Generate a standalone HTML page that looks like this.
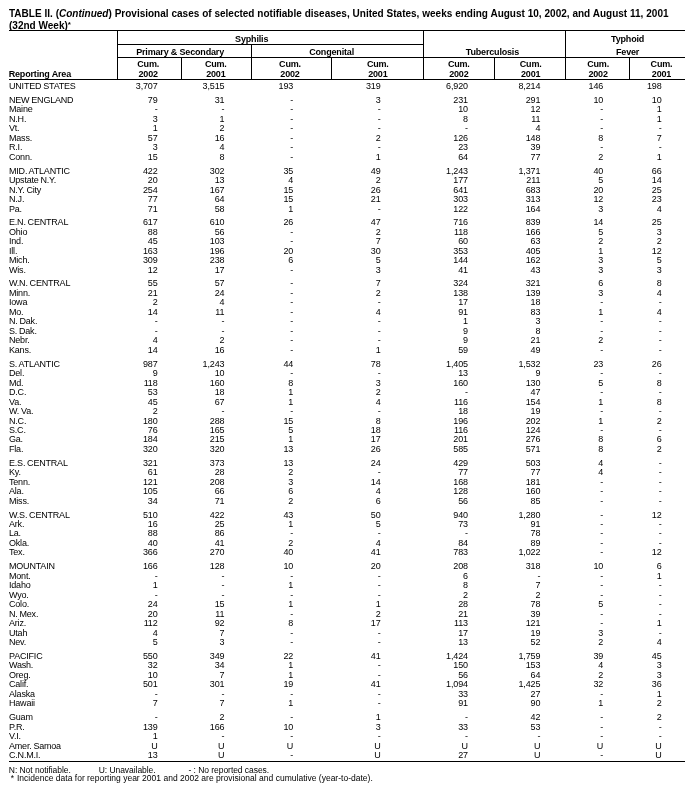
<!DOCTYPE html>
<html><head><meta charset="utf-8"><style>
html,body{margin:0;padding:0;background:#fff;width:699px;height:792px;overflow:hidden;position:relative}
div{position:absolute;white-space:nowrap;color:#000;font-family:'Liberation Sans', sans-serif}
#wrap{left:0;top:0;width:699px;height:792px;will-change:transform}
.t{font-size:10px;font-weight:bold;line-height:11px;word-spacing:0.1px}
.r{font-size:9px;line-height:10px;letter-spacing:-0.2px;word-spacing:-0.4px}
.ra{letter-spacing:-0.15px}
.b{font-size:9px;font-weight:bold;line-height:10px;letter-spacing:-0.17px}
.f{font-size:8.5px;line-height:9px;letter-spacing:-0.05px}
.ca{width:200px;text-align:center}
.hl{height:1px;background:#000}
.vl{width:1px;background:#000}
</style></head><body><div id="wrap">
<div class="t" style="left:9.00px;top:8px">TABLE II. (<i>Continued</i>) Provisional cases of selected notifiable diseases, United States, weeks ending August 10, 2002, and August 11, 2001</div>
<div class="t" style="left:9.00px;top:19px">(32nd Week)<span style="font-size:8px;vertical-align:1.5px">*</span></div>
<div class="hl" style="left:9px;top:30px;width:676px"></div>
<div class="hl" style="left:117px;top:44px;width:307px"></div>
<div class="hl" style="left:117px;top:57px;width:568px"></div>
<div class="hl" style="left:9px;top:79px;width:676px"></div>
<div class="vl" style="left:117px;top:30px;height:50px"></div>
<div class="vl" style="left:423px;top:30px;height:50px"></div>
<div class="vl" style="left:565px;top:30px;height:50px"></div>
<div class="vl" style="left:251px;top:44px;height:36px"></div>
<div class="vl" style="left:181px;top:57px;height:23px"></div>
<div class="vl" style="left:331px;top:57px;height:23px"></div>
<div class="vl" style="left:494px;top:57px;height:23px"></div>
<div class="vl" style="left:629px;top:57px;height:23px"></div>
<div class="b" style="left:8.70px;top:69px">Reporting Area</div>
<div class="b ca" style="left:151.70px;top:34px">Syphilis</div>
<div class="b ca" style="left:80.10px;top:47px">Primary &amp; Secondary</div>
<div class="b ca" style="left:231.60px;top:47px">Congenital</div>
<div class="b ca" style="left:392.40px;top:47px">Tuberculosis</div>
<div class="b ca" style="left:527.60px;top:34px">Typhoid</div>
<div class="b ca" style="left:527.60px;top:47px">Fever</div>
<div class="b ca" style="left:48.20px;top:59px">Cum.</div>
<div class="b ca" style="left:48.20px;top:69px">2002</div>
<div class="b ca" style="left:115.80px;top:59px">Cum.</div>
<div class="b ca" style="left:115.80px;top:69px">2001</div>
<div class="b ca" style="left:190.00px;top:59px">Cum.</div>
<div class="b ca" style="left:190.00px;top:69px">2002</div>
<div class="b ca" style="left:277.80px;top:59px">Cum.</div>
<div class="b ca" style="left:277.80px;top:69px">2001</div>
<div class="b ca" style="left:358.80px;top:59px">Cum.</div>
<div class="b ca" style="left:358.80px;top:69px">2002</div>
<div class="b ca" style="left:430.70px;top:59px">Cum.</div>
<div class="b ca" style="left:430.70px;top:69px">2001</div>
<div class="b ca" style="left:498.10px;top:59px">Cum.</div>
<div class="b ca" style="left:498.10px;top:69px">2002</div>
<div class="b ca" style="left:561.50px;top:59px">Cum.</div>
<div class="b ca" style="left:561.50px;top:69px">2001</div>
<div class="r" style="left:9.00px;top:81px">UNITED STATES</div>
<div class="r ra" style="right:541.45px;top:81px">3,707</div>
<div class="r ra" style="right:474.65px;top:81px">3,515</div>
<div class="r ra" style="right:405.85px;top:81px">193</div>
<div class="r ra" style="right:318.45px;top:81px">319</div>
<div class="r ra" style="right:231.15px;top:81px">6,920</div>
<div class="r ra" style="right:158.75px;top:81px">8,214</div>
<div class="r ra" style="right:95.85px;top:81px">146</div>
<div class="r ra" style="right:37.45px;top:81px">198</div>
<div class="r" style="left:9.00px;top:95px">NEW ENGLAND</div>
<div class="r ra" style="right:541.45px;top:95px">79</div>
<div class="r ra" style="right:474.65px;top:95px">31</div>
<div class="r ra" style="right:405.85px;top:95px">-</div>
<div class="r ra" style="right:318.45px;top:95px">3</div>
<div class="r ra" style="right:231.15px;top:95px">231</div>
<div class="r ra" style="right:158.75px;top:95px">291</div>
<div class="r ra" style="right:95.85px;top:95px">10</div>
<div class="r ra" style="right:37.45px;top:95px">10</div>
<div class="r" style="left:9.00px;top:104px">Maine</div>
<div class="r ra" style="right:541.45px;top:104px">-</div>
<div class="r ra" style="right:474.65px;top:104px">-</div>
<div class="r ra" style="right:405.85px;top:104px">-</div>
<div class="r ra" style="right:318.45px;top:104px">-</div>
<div class="r ra" style="right:231.15px;top:104px">10</div>
<div class="r ra" style="right:158.75px;top:104px">12</div>
<div class="r ra" style="right:95.85px;top:104px">-</div>
<div class="r ra" style="right:37.45px;top:104px">1</div>
<div class="r" style="left:9.00px;top:114px">N.H.</div>
<div class="r ra" style="right:541.45px;top:114px">3</div>
<div class="r ra" style="right:474.65px;top:114px">1</div>
<div class="r ra" style="right:405.85px;top:114px">-</div>
<div class="r ra" style="right:318.45px;top:114px">-</div>
<div class="r ra" style="right:231.15px;top:114px">8</div>
<div class="r ra" style="right:158.75px;top:114px">11</div>
<div class="r ra" style="right:95.85px;top:114px">-</div>
<div class="r ra" style="right:37.45px;top:114px">1</div>
<div class="r" style="left:9.00px;top:123px">Vt.</div>
<div class="r ra" style="right:541.45px;top:123px">1</div>
<div class="r ra" style="right:474.65px;top:123px">2</div>
<div class="r ra" style="right:405.85px;top:123px">-</div>
<div class="r ra" style="right:318.45px;top:123px">-</div>
<div class="r ra" style="right:231.15px;top:123px">-</div>
<div class="r ra" style="right:158.75px;top:123px">4</div>
<div class="r ra" style="right:95.85px;top:123px">-</div>
<div class="r ra" style="right:37.45px;top:123px">-</div>
<div class="r" style="left:9.00px;top:133px">Mass.</div>
<div class="r ra" style="right:541.45px;top:133px">57</div>
<div class="r ra" style="right:474.65px;top:133px">16</div>
<div class="r ra" style="right:405.85px;top:133px">-</div>
<div class="r ra" style="right:318.45px;top:133px">2</div>
<div class="r ra" style="right:231.15px;top:133px">126</div>
<div class="r ra" style="right:158.75px;top:133px">148</div>
<div class="r ra" style="right:95.85px;top:133px">8</div>
<div class="r ra" style="right:37.45px;top:133px">7</div>
<div class="r" style="left:9.00px;top:142px">R.I.</div>
<div class="r ra" style="right:541.45px;top:142px">3</div>
<div class="r ra" style="right:474.65px;top:142px">4</div>
<div class="r ra" style="right:405.85px;top:142px">-</div>
<div class="r ra" style="right:318.45px;top:142px">-</div>
<div class="r ra" style="right:231.15px;top:142px">23</div>
<div class="r ra" style="right:158.75px;top:142px">39</div>
<div class="r ra" style="right:95.85px;top:142px">-</div>
<div class="r ra" style="right:37.45px;top:142px">-</div>
<div class="r" style="left:9.00px;top:152px">Conn.</div>
<div class="r ra" style="right:541.45px;top:152px">15</div>
<div class="r ra" style="right:474.65px;top:152px">8</div>
<div class="r ra" style="right:405.85px;top:152px">-</div>
<div class="r ra" style="right:318.45px;top:152px">1</div>
<div class="r ra" style="right:231.15px;top:152px">64</div>
<div class="r ra" style="right:158.75px;top:152px">77</div>
<div class="r ra" style="right:95.85px;top:152px">2</div>
<div class="r ra" style="right:37.45px;top:152px">1</div>
<div class="r" style="left:9.00px;top:166px">MID. ATLANTIC</div>
<div class="r ra" style="right:541.45px;top:166px">422</div>
<div class="r ra" style="right:474.65px;top:166px">302</div>
<div class="r ra" style="right:405.85px;top:166px">35</div>
<div class="r ra" style="right:318.45px;top:166px">49</div>
<div class="r ra" style="right:231.15px;top:166px">1,243</div>
<div class="r ra" style="right:158.75px;top:166px">1,371</div>
<div class="r ra" style="right:95.85px;top:166px">40</div>
<div class="r ra" style="right:37.45px;top:166px">66</div>
<div class="r" style="left:9.00px;top:175px">Upstate N.Y.</div>
<div class="r ra" style="right:541.45px;top:175px">20</div>
<div class="r ra" style="right:474.65px;top:175px">13</div>
<div class="r ra" style="right:405.85px;top:175px">4</div>
<div class="r ra" style="right:318.45px;top:175px">2</div>
<div class="r ra" style="right:231.15px;top:175px">177</div>
<div class="r ra" style="right:158.75px;top:175px">211</div>
<div class="r ra" style="right:95.85px;top:175px">5</div>
<div class="r ra" style="right:37.45px;top:175px">14</div>
<div class="r" style="left:9.00px;top:185px">N.Y. City</div>
<div class="r ra" style="right:541.45px;top:185px">254</div>
<div class="r ra" style="right:474.65px;top:185px">167</div>
<div class="r ra" style="right:405.85px;top:185px">15</div>
<div class="r ra" style="right:318.45px;top:185px">26</div>
<div class="r ra" style="right:231.15px;top:185px">641</div>
<div class="r ra" style="right:158.75px;top:185px">683</div>
<div class="r ra" style="right:95.85px;top:185px">20</div>
<div class="r ra" style="right:37.45px;top:185px">25</div>
<div class="r" style="left:9.00px;top:194px">N.J.</div>
<div class="r ra" style="right:541.45px;top:194px">77</div>
<div class="r ra" style="right:474.65px;top:194px">64</div>
<div class="r ra" style="right:405.85px;top:194px">15</div>
<div class="r ra" style="right:318.45px;top:194px">21</div>
<div class="r ra" style="right:231.15px;top:194px">303</div>
<div class="r ra" style="right:158.75px;top:194px">313</div>
<div class="r ra" style="right:95.85px;top:194px">12</div>
<div class="r ra" style="right:37.45px;top:194px">23</div>
<div class="r" style="left:9.00px;top:204px">Pa.</div>
<div class="r ra" style="right:541.45px;top:204px">71</div>
<div class="r ra" style="right:474.65px;top:204px">58</div>
<div class="r ra" style="right:405.85px;top:204px">1</div>
<div class="r ra" style="right:318.45px;top:204px">-</div>
<div class="r ra" style="right:231.15px;top:204px">122</div>
<div class="r ra" style="right:158.75px;top:204px">164</div>
<div class="r ra" style="right:95.85px;top:204px">3</div>
<div class="r ra" style="right:37.45px;top:204px">4</div>
<div class="r" style="left:9.00px;top:217px">E.N. CENTRAL</div>
<div class="r ra" style="right:541.45px;top:217px">617</div>
<div class="r ra" style="right:474.65px;top:217px">610</div>
<div class="r ra" style="right:405.85px;top:217px">26</div>
<div class="r ra" style="right:318.45px;top:217px">47</div>
<div class="r ra" style="right:231.15px;top:217px">716</div>
<div class="r ra" style="right:158.75px;top:217px">839</div>
<div class="r ra" style="right:95.85px;top:217px">14</div>
<div class="r ra" style="right:37.45px;top:217px">25</div>
<div class="r" style="left:9.00px;top:227px">Ohio</div>
<div class="r ra" style="right:541.45px;top:227px">88</div>
<div class="r ra" style="right:474.65px;top:227px">56</div>
<div class="r ra" style="right:405.85px;top:227px">-</div>
<div class="r ra" style="right:318.45px;top:227px">2</div>
<div class="r ra" style="right:231.15px;top:227px">118</div>
<div class="r ra" style="right:158.75px;top:227px">166</div>
<div class="r ra" style="right:95.85px;top:227px">5</div>
<div class="r ra" style="right:37.45px;top:227px">3</div>
<div class="r" style="left:9.00px;top:236px">Ind.</div>
<div class="r ra" style="right:541.45px;top:236px">45</div>
<div class="r ra" style="right:474.65px;top:236px">103</div>
<div class="r ra" style="right:405.85px;top:236px">-</div>
<div class="r ra" style="right:318.45px;top:236px">7</div>
<div class="r ra" style="right:231.15px;top:236px">60</div>
<div class="r ra" style="right:158.75px;top:236px">63</div>
<div class="r ra" style="right:95.85px;top:236px">2</div>
<div class="r ra" style="right:37.45px;top:236px">2</div>
<div class="r" style="left:9.00px;top:246px">Ill.</div>
<div class="r ra" style="right:541.45px;top:246px">163</div>
<div class="r ra" style="right:474.65px;top:246px">196</div>
<div class="r ra" style="right:405.85px;top:246px">20</div>
<div class="r ra" style="right:318.45px;top:246px">30</div>
<div class="r ra" style="right:231.15px;top:246px">353</div>
<div class="r ra" style="right:158.75px;top:246px">405</div>
<div class="r ra" style="right:95.85px;top:246px">1</div>
<div class="r ra" style="right:37.45px;top:246px">12</div>
<div class="r" style="left:9.00px;top:255px">Mich.</div>
<div class="r ra" style="right:541.45px;top:255px">309</div>
<div class="r ra" style="right:474.65px;top:255px">238</div>
<div class="r ra" style="right:405.85px;top:255px">6</div>
<div class="r ra" style="right:318.45px;top:255px">5</div>
<div class="r ra" style="right:231.15px;top:255px">144</div>
<div class="r ra" style="right:158.75px;top:255px">162</div>
<div class="r ra" style="right:95.85px;top:255px">3</div>
<div class="r ra" style="right:37.45px;top:255px">5</div>
<div class="r" style="left:9.00px;top:265px">Wis.</div>
<div class="r ra" style="right:541.45px;top:265px">12</div>
<div class="r ra" style="right:474.65px;top:265px">17</div>
<div class="r ra" style="right:405.85px;top:265px">-</div>
<div class="r ra" style="right:318.45px;top:265px">3</div>
<div class="r ra" style="right:231.15px;top:265px">41</div>
<div class="r ra" style="right:158.75px;top:265px">43</div>
<div class="r ra" style="right:95.85px;top:265px">3</div>
<div class="r ra" style="right:37.45px;top:265px">3</div>
<div class="r" style="left:9.00px;top:278px">W.N. CENTRAL</div>
<div class="r ra" style="right:541.45px;top:278px">55</div>
<div class="r ra" style="right:474.65px;top:278px">57</div>
<div class="r ra" style="right:405.85px;top:278px">-</div>
<div class="r ra" style="right:318.45px;top:278px">7</div>
<div class="r ra" style="right:231.15px;top:278px">324</div>
<div class="r ra" style="right:158.75px;top:278px">321</div>
<div class="r ra" style="right:95.85px;top:278px">6</div>
<div class="r ra" style="right:37.45px;top:278px">8</div>
<div class="r" style="left:9.00px;top:288px">Minn.</div>
<div class="r ra" style="right:541.45px;top:288px">21</div>
<div class="r ra" style="right:474.65px;top:288px">24</div>
<div class="r ra" style="right:405.85px;top:288px">-</div>
<div class="r ra" style="right:318.45px;top:288px">2</div>
<div class="r ra" style="right:231.15px;top:288px">138</div>
<div class="r ra" style="right:158.75px;top:288px">139</div>
<div class="r ra" style="right:95.85px;top:288px">3</div>
<div class="r ra" style="right:37.45px;top:288px">4</div>
<div class="r" style="left:9.00px;top:297px">Iowa</div>
<div class="r ra" style="right:541.45px;top:297px">2</div>
<div class="r ra" style="right:474.65px;top:297px">4</div>
<div class="r ra" style="right:405.85px;top:297px">-</div>
<div class="r ra" style="right:318.45px;top:297px">-</div>
<div class="r ra" style="right:231.15px;top:297px">17</div>
<div class="r ra" style="right:158.75px;top:297px">18</div>
<div class="r ra" style="right:95.85px;top:297px">-</div>
<div class="r ra" style="right:37.45px;top:297px">-</div>
<div class="r" style="left:9.00px;top:307px">Mo.</div>
<div class="r ra" style="right:541.45px;top:307px">14</div>
<div class="r ra" style="right:474.65px;top:307px">11</div>
<div class="r ra" style="right:405.85px;top:307px">-</div>
<div class="r ra" style="right:318.45px;top:307px">4</div>
<div class="r ra" style="right:231.15px;top:307px">91</div>
<div class="r ra" style="right:158.75px;top:307px">83</div>
<div class="r ra" style="right:95.85px;top:307px">1</div>
<div class="r ra" style="right:37.45px;top:307px">4</div>
<div class="r" style="left:9.00px;top:316px">N. Dak.</div>
<div class="r ra" style="right:541.45px;top:316px">-</div>
<div class="r ra" style="right:474.65px;top:316px">-</div>
<div class="r ra" style="right:405.85px;top:316px">-</div>
<div class="r ra" style="right:318.45px;top:316px">-</div>
<div class="r ra" style="right:231.15px;top:316px">1</div>
<div class="r ra" style="right:158.75px;top:316px">3</div>
<div class="r ra" style="right:95.85px;top:316px">-</div>
<div class="r ra" style="right:37.45px;top:316px">-</div>
<div class="r" style="left:9.00px;top:326px">S. Dak.</div>
<div class="r ra" style="right:541.45px;top:326px">-</div>
<div class="r ra" style="right:474.65px;top:326px">-</div>
<div class="r ra" style="right:405.85px;top:326px">-</div>
<div class="r ra" style="right:318.45px;top:326px">-</div>
<div class="r ra" style="right:231.15px;top:326px">9</div>
<div class="r ra" style="right:158.75px;top:326px">8</div>
<div class="r ra" style="right:95.85px;top:326px">-</div>
<div class="r ra" style="right:37.45px;top:326px">-</div>
<div class="r" style="left:9.00px;top:335px">Nebr.</div>
<div class="r ra" style="right:541.45px;top:335px">4</div>
<div class="r ra" style="right:474.65px;top:335px">2</div>
<div class="r ra" style="right:405.85px;top:335px">-</div>
<div class="r ra" style="right:318.45px;top:335px">-</div>
<div class="r ra" style="right:231.15px;top:335px">9</div>
<div class="r ra" style="right:158.75px;top:335px">21</div>
<div class="r ra" style="right:95.85px;top:335px">2</div>
<div class="r ra" style="right:37.45px;top:335px">-</div>
<div class="r" style="left:9.00px;top:345px">Kans.</div>
<div class="r ra" style="right:541.45px;top:345px">14</div>
<div class="r ra" style="right:474.65px;top:345px">16</div>
<div class="r ra" style="right:405.85px;top:345px">-</div>
<div class="r ra" style="right:318.45px;top:345px">1</div>
<div class="r ra" style="right:231.15px;top:345px">59</div>
<div class="r ra" style="right:158.75px;top:345px">49</div>
<div class="r ra" style="right:95.85px;top:345px">-</div>
<div class="r ra" style="right:37.45px;top:345px">-</div>
<div class="r" style="left:9.00px;top:359px">S. ATLANTIC</div>
<div class="r ra" style="right:541.45px;top:359px">987</div>
<div class="r ra" style="right:474.65px;top:359px">1,243</div>
<div class="r ra" style="right:405.85px;top:359px">44</div>
<div class="r ra" style="right:318.45px;top:359px">78</div>
<div class="r ra" style="right:231.15px;top:359px">1,405</div>
<div class="r ra" style="right:158.75px;top:359px">1,532</div>
<div class="r ra" style="right:95.85px;top:359px">23</div>
<div class="r ra" style="right:37.45px;top:359px">26</div>
<div class="r" style="left:9.00px;top:368px">Del.</div>
<div class="r ra" style="right:541.45px;top:368px">9</div>
<div class="r ra" style="right:474.65px;top:368px">10</div>
<div class="r ra" style="right:405.85px;top:368px">-</div>
<div class="r ra" style="right:318.45px;top:368px">-</div>
<div class="r ra" style="right:231.15px;top:368px">13</div>
<div class="r ra" style="right:158.75px;top:368px">9</div>
<div class="r ra" style="right:95.85px;top:368px">-</div>
<div class="r ra" style="right:37.45px;top:368px">-</div>
<div class="r" style="left:9.00px;top:378px">Md.</div>
<div class="r ra" style="right:541.45px;top:378px">118</div>
<div class="r ra" style="right:474.65px;top:378px">160</div>
<div class="r ra" style="right:405.85px;top:378px">8</div>
<div class="r ra" style="right:318.45px;top:378px">3</div>
<div class="r ra" style="right:231.15px;top:378px">160</div>
<div class="r ra" style="right:158.75px;top:378px">130</div>
<div class="r ra" style="right:95.85px;top:378px">5</div>
<div class="r ra" style="right:37.45px;top:378px">8</div>
<div class="r" style="left:9.00px;top:387px">D.C.</div>
<div class="r ra" style="right:541.45px;top:387px">53</div>
<div class="r ra" style="right:474.65px;top:387px">18</div>
<div class="r ra" style="right:405.85px;top:387px">1</div>
<div class="r ra" style="right:318.45px;top:387px">2</div>
<div class="r ra" style="right:231.15px;top:387px">-</div>
<div class="r ra" style="right:158.75px;top:387px">47</div>
<div class="r ra" style="right:95.85px;top:387px">-</div>
<div class="r ra" style="right:37.45px;top:387px">-</div>
<div class="r" style="left:9.00px;top:397px">Va.</div>
<div class="r ra" style="right:541.45px;top:397px">45</div>
<div class="r ra" style="right:474.65px;top:397px">67</div>
<div class="r ra" style="right:405.85px;top:397px">1</div>
<div class="r ra" style="right:318.45px;top:397px">4</div>
<div class="r ra" style="right:231.15px;top:397px">116</div>
<div class="r ra" style="right:158.75px;top:397px">154</div>
<div class="r ra" style="right:95.85px;top:397px">1</div>
<div class="r ra" style="right:37.45px;top:397px">8</div>
<div class="r" style="left:9.00px;top:406px">W. Va.</div>
<div class="r ra" style="right:541.45px;top:406px">2</div>
<div class="r ra" style="right:474.65px;top:406px">-</div>
<div class="r ra" style="right:405.85px;top:406px">-</div>
<div class="r ra" style="right:318.45px;top:406px">-</div>
<div class="r ra" style="right:231.15px;top:406px">18</div>
<div class="r ra" style="right:158.75px;top:406px">19</div>
<div class="r ra" style="right:95.85px;top:406px">-</div>
<div class="r ra" style="right:37.45px;top:406px">-</div>
<div class="r" style="left:9.00px;top:416px">N.C.</div>
<div class="r ra" style="right:541.45px;top:416px">180</div>
<div class="r ra" style="right:474.65px;top:416px">288</div>
<div class="r ra" style="right:405.85px;top:416px">15</div>
<div class="r ra" style="right:318.45px;top:416px">8</div>
<div class="r ra" style="right:231.15px;top:416px">196</div>
<div class="r ra" style="right:158.75px;top:416px">202</div>
<div class="r ra" style="right:95.85px;top:416px">1</div>
<div class="r ra" style="right:37.45px;top:416px">2</div>
<div class="r" style="left:9.00px;top:425px">S.C.</div>
<div class="r ra" style="right:541.45px;top:425px">76</div>
<div class="r ra" style="right:474.65px;top:425px">165</div>
<div class="r ra" style="right:405.85px;top:425px">5</div>
<div class="r ra" style="right:318.45px;top:425px">18</div>
<div class="r ra" style="right:231.15px;top:425px">116</div>
<div class="r ra" style="right:158.75px;top:425px">124</div>
<div class="r ra" style="right:95.85px;top:425px">-</div>
<div class="r ra" style="right:37.45px;top:425px">-</div>
<div class="r" style="left:9.00px;top:434px">Ga.</div>
<div class="r ra" style="right:541.45px;top:434px">184</div>
<div class="r ra" style="right:474.65px;top:434px">215</div>
<div class="r ra" style="right:405.85px;top:434px">1</div>
<div class="r ra" style="right:318.45px;top:434px">17</div>
<div class="r ra" style="right:231.15px;top:434px">201</div>
<div class="r ra" style="right:158.75px;top:434px">276</div>
<div class="r ra" style="right:95.85px;top:434px">8</div>
<div class="r ra" style="right:37.45px;top:434px">6</div>
<div class="r" style="left:9.00px;top:444px">Fla.</div>
<div class="r ra" style="right:541.45px;top:444px">320</div>
<div class="r ra" style="right:474.65px;top:444px">320</div>
<div class="r ra" style="right:405.85px;top:444px">13</div>
<div class="r ra" style="right:318.45px;top:444px">26</div>
<div class="r ra" style="right:231.15px;top:444px">585</div>
<div class="r ra" style="right:158.75px;top:444px">571</div>
<div class="r ra" style="right:95.85px;top:444px">8</div>
<div class="r ra" style="right:37.45px;top:444px">2</div>
<div class="r" style="left:9.00px;top:458px">E.S. CENTRAL</div>
<div class="r ra" style="right:541.45px;top:458px">321</div>
<div class="r ra" style="right:474.65px;top:458px">373</div>
<div class="r ra" style="right:405.85px;top:458px">13</div>
<div class="r ra" style="right:318.45px;top:458px">24</div>
<div class="r ra" style="right:231.15px;top:458px">429</div>
<div class="r ra" style="right:158.75px;top:458px">503</div>
<div class="r ra" style="right:95.85px;top:458px">4</div>
<div class="r ra" style="right:37.45px;top:458px">-</div>
<div class="r" style="left:9.00px;top:467px">Ky.</div>
<div class="r ra" style="right:541.45px;top:467px">61</div>
<div class="r ra" style="right:474.65px;top:467px">28</div>
<div class="r ra" style="right:405.85px;top:467px">2</div>
<div class="r ra" style="right:318.45px;top:467px">-</div>
<div class="r ra" style="right:231.15px;top:467px">77</div>
<div class="r ra" style="right:158.75px;top:467px">77</div>
<div class="r ra" style="right:95.85px;top:467px">4</div>
<div class="r ra" style="right:37.45px;top:467px">-</div>
<div class="r" style="left:9.00px;top:477px">Tenn.</div>
<div class="r ra" style="right:541.45px;top:477px">121</div>
<div class="r ra" style="right:474.65px;top:477px">208</div>
<div class="r ra" style="right:405.85px;top:477px">3</div>
<div class="r ra" style="right:318.45px;top:477px">14</div>
<div class="r ra" style="right:231.15px;top:477px">168</div>
<div class="r ra" style="right:158.75px;top:477px">181</div>
<div class="r ra" style="right:95.85px;top:477px">-</div>
<div class="r ra" style="right:37.45px;top:477px">-</div>
<div class="r" style="left:9.00px;top:486px">Ala.</div>
<div class="r ra" style="right:541.45px;top:486px">105</div>
<div class="r ra" style="right:474.65px;top:486px">66</div>
<div class="r ra" style="right:405.85px;top:486px">6</div>
<div class="r ra" style="right:318.45px;top:486px">4</div>
<div class="r ra" style="right:231.15px;top:486px">128</div>
<div class="r ra" style="right:158.75px;top:486px">160</div>
<div class="r ra" style="right:95.85px;top:486px">-</div>
<div class="r ra" style="right:37.45px;top:486px">-</div>
<div class="r" style="left:9.00px;top:496px">Miss.</div>
<div class="r ra" style="right:541.45px;top:496px">34</div>
<div class="r ra" style="right:474.65px;top:496px">71</div>
<div class="r ra" style="right:405.85px;top:496px">2</div>
<div class="r ra" style="right:318.45px;top:496px">6</div>
<div class="r ra" style="right:231.15px;top:496px">56</div>
<div class="r ra" style="right:158.75px;top:496px">85</div>
<div class="r ra" style="right:95.85px;top:496px">-</div>
<div class="r ra" style="right:37.45px;top:496px">-</div>
<div class="r" style="left:9.00px;top:510px">W.S. CENTRAL</div>
<div class="r ra" style="right:541.45px;top:510px">510</div>
<div class="r ra" style="right:474.65px;top:510px">422</div>
<div class="r ra" style="right:405.85px;top:510px">43</div>
<div class="r ra" style="right:318.45px;top:510px">50</div>
<div class="r ra" style="right:231.15px;top:510px">940</div>
<div class="r ra" style="right:158.75px;top:510px">1,280</div>
<div class="r ra" style="right:95.85px;top:510px">-</div>
<div class="r ra" style="right:37.45px;top:510px">12</div>
<div class="r" style="left:9.00px;top:519px">Ark.</div>
<div class="r ra" style="right:541.45px;top:519px">16</div>
<div class="r ra" style="right:474.65px;top:519px">25</div>
<div class="r ra" style="right:405.85px;top:519px">1</div>
<div class="r ra" style="right:318.45px;top:519px">5</div>
<div class="r ra" style="right:231.15px;top:519px">73</div>
<div class="r ra" style="right:158.75px;top:519px">91</div>
<div class="r ra" style="right:95.85px;top:519px">-</div>
<div class="r ra" style="right:37.45px;top:519px">-</div>
<div class="r" style="left:9.00px;top:528px">La.</div>
<div class="r ra" style="right:541.45px;top:528px">88</div>
<div class="r ra" style="right:474.65px;top:528px">86</div>
<div class="r ra" style="right:405.85px;top:528px">-</div>
<div class="r ra" style="right:318.45px;top:528px">-</div>
<div class="r ra" style="right:231.15px;top:528px">-</div>
<div class="r ra" style="right:158.75px;top:528px">78</div>
<div class="r ra" style="right:95.85px;top:528px">-</div>
<div class="r ra" style="right:37.45px;top:528px">-</div>
<div class="r" style="left:9.00px;top:538px">Okla.</div>
<div class="r ra" style="right:541.45px;top:538px">40</div>
<div class="r ra" style="right:474.65px;top:538px">41</div>
<div class="r ra" style="right:405.85px;top:538px">2</div>
<div class="r ra" style="right:318.45px;top:538px">4</div>
<div class="r ra" style="right:231.15px;top:538px">84</div>
<div class="r ra" style="right:158.75px;top:538px">89</div>
<div class="r ra" style="right:95.85px;top:538px">-</div>
<div class="r ra" style="right:37.45px;top:538px">-</div>
<div class="r" style="left:9.00px;top:547px">Tex.</div>
<div class="r ra" style="right:541.45px;top:547px">366</div>
<div class="r ra" style="right:474.65px;top:547px">270</div>
<div class="r ra" style="right:405.85px;top:547px">40</div>
<div class="r ra" style="right:318.45px;top:547px">41</div>
<div class="r ra" style="right:231.15px;top:547px">783</div>
<div class="r ra" style="right:158.75px;top:547px">1,022</div>
<div class="r ra" style="right:95.85px;top:547px">-</div>
<div class="r ra" style="right:37.45px;top:547px">12</div>
<div class="r" style="left:9.00px;top:561px">MOUNTAIN</div>
<div class="r ra" style="right:541.45px;top:561px">166</div>
<div class="r ra" style="right:474.65px;top:561px">128</div>
<div class="r ra" style="right:405.85px;top:561px">10</div>
<div class="r ra" style="right:318.45px;top:561px">20</div>
<div class="r ra" style="right:231.15px;top:561px">208</div>
<div class="r ra" style="right:158.75px;top:561px">318</div>
<div class="r ra" style="right:95.85px;top:561px">10</div>
<div class="r ra" style="right:37.45px;top:561px">6</div>
<div class="r" style="left:9.00px;top:571px">Mont.</div>
<div class="r ra" style="right:541.45px;top:571px">-</div>
<div class="r ra" style="right:474.65px;top:571px">-</div>
<div class="r ra" style="right:405.85px;top:571px">-</div>
<div class="r ra" style="right:318.45px;top:571px">-</div>
<div class="r ra" style="right:231.15px;top:571px">6</div>
<div class="r ra" style="right:158.75px;top:571px">-</div>
<div class="r ra" style="right:95.85px;top:571px">-</div>
<div class="r ra" style="right:37.45px;top:571px">1</div>
<div class="r" style="left:9.00px;top:580px">Idaho</div>
<div class="r ra" style="right:541.45px;top:580px">1</div>
<div class="r ra" style="right:474.65px;top:580px">-</div>
<div class="r ra" style="right:405.85px;top:580px">1</div>
<div class="r ra" style="right:318.45px;top:580px">-</div>
<div class="r ra" style="right:231.15px;top:580px">8</div>
<div class="r ra" style="right:158.75px;top:580px">7</div>
<div class="r ra" style="right:95.85px;top:580px">-</div>
<div class="r ra" style="right:37.45px;top:580px">-</div>
<div class="r" style="left:9.00px;top:590px">Wyo.</div>
<div class="r ra" style="right:541.45px;top:590px">-</div>
<div class="r ra" style="right:474.65px;top:590px">-</div>
<div class="r ra" style="right:405.85px;top:590px">-</div>
<div class="r ra" style="right:318.45px;top:590px">-</div>
<div class="r ra" style="right:231.15px;top:590px">2</div>
<div class="r ra" style="right:158.75px;top:590px">2</div>
<div class="r ra" style="right:95.85px;top:590px">-</div>
<div class="r ra" style="right:37.45px;top:590px">-</div>
<div class="r" style="left:9.00px;top:599px">Colo.</div>
<div class="r ra" style="right:541.45px;top:599px">24</div>
<div class="r ra" style="right:474.65px;top:599px">15</div>
<div class="r ra" style="right:405.85px;top:599px">1</div>
<div class="r ra" style="right:318.45px;top:599px">1</div>
<div class="r ra" style="right:231.15px;top:599px">28</div>
<div class="r ra" style="right:158.75px;top:599px">78</div>
<div class="r ra" style="right:95.85px;top:599px">5</div>
<div class="r ra" style="right:37.45px;top:599px">-</div>
<div class="r" style="left:9.00px;top:609px">N. Mex.</div>
<div class="r ra" style="right:541.45px;top:609px">20</div>
<div class="r ra" style="right:474.65px;top:609px">11</div>
<div class="r ra" style="right:405.85px;top:609px">-</div>
<div class="r ra" style="right:318.45px;top:609px">2</div>
<div class="r ra" style="right:231.15px;top:609px">21</div>
<div class="r ra" style="right:158.75px;top:609px">39</div>
<div class="r ra" style="right:95.85px;top:609px">-</div>
<div class="r ra" style="right:37.45px;top:609px">-</div>
<div class="r" style="left:9.00px;top:618px">Ariz.</div>
<div class="r ra" style="right:541.45px;top:618px">112</div>
<div class="r ra" style="right:474.65px;top:618px">92</div>
<div class="r ra" style="right:405.85px;top:618px">8</div>
<div class="r ra" style="right:318.45px;top:618px">17</div>
<div class="r ra" style="right:231.15px;top:618px">113</div>
<div class="r ra" style="right:158.75px;top:618px">121</div>
<div class="r ra" style="right:95.85px;top:618px">-</div>
<div class="r ra" style="right:37.45px;top:618px">1</div>
<div class="r" style="left:9.00px;top:628px">Utah</div>
<div class="r ra" style="right:541.45px;top:628px">4</div>
<div class="r ra" style="right:474.65px;top:628px">7</div>
<div class="r ra" style="right:405.85px;top:628px">-</div>
<div class="r ra" style="right:318.45px;top:628px">-</div>
<div class="r ra" style="right:231.15px;top:628px">17</div>
<div class="r ra" style="right:158.75px;top:628px">19</div>
<div class="r ra" style="right:95.85px;top:628px">3</div>
<div class="r ra" style="right:37.45px;top:628px">-</div>
<div class="r" style="left:9.00px;top:637px">Nev.</div>
<div class="r ra" style="right:541.45px;top:637px">5</div>
<div class="r ra" style="right:474.65px;top:637px">3</div>
<div class="r ra" style="right:405.85px;top:637px">-</div>
<div class="r ra" style="right:318.45px;top:637px">-</div>
<div class="r ra" style="right:231.15px;top:637px">13</div>
<div class="r ra" style="right:158.75px;top:637px">52</div>
<div class="r ra" style="right:95.85px;top:637px">2</div>
<div class="r ra" style="right:37.45px;top:637px">4</div>
<div class="r" style="left:9.00px;top:651px">PACIFIC</div>
<div class="r ra" style="right:541.45px;top:651px">550</div>
<div class="r ra" style="right:474.65px;top:651px">349</div>
<div class="r ra" style="right:405.85px;top:651px">22</div>
<div class="r ra" style="right:318.45px;top:651px">41</div>
<div class="r ra" style="right:231.15px;top:651px">1,424</div>
<div class="r ra" style="right:158.75px;top:651px">1,759</div>
<div class="r ra" style="right:95.85px;top:651px">39</div>
<div class="r ra" style="right:37.45px;top:651px">45</div>
<div class="r" style="left:9.00px;top:660px">Wash.</div>
<div class="r ra" style="right:541.45px;top:660px">32</div>
<div class="r ra" style="right:474.65px;top:660px">34</div>
<div class="r ra" style="right:405.85px;top:660px">1</div>
<div class="r ra" style="right:318.45px;top:660px">-</div>
<div class="r ra" style="right:231.15px;top:660px">150</div>
<div class="r ra" style="right:158.75px;top:660px">153</div>
<div class="r ra" style="right:95.85px;top:660px">4</div>
<div class="r ra" style="right:37.45px;top:660px">3</div>
<div class="r" style="left:9.00px;top:670px">Oreg.</div>
<div class="r ra" style="right:541.45px;top:670px">10</div>
<div class="r ra" style="right:474.65px;top:670px">7</div>
<div class="r ra" style="right:405.85px;top:670px">1</div>
<div class="r ra" style="right:318.45px;top:670px">-</div>
<div class="r ra" style="right:231.15px;top:670px">56</div>
<div class="r ra" style="right:158.75px;top:670px">64</div>
<div class="r ra" style="right:95.85px;top:670px">2</div>
<div class="r ra" style="right:37.45px;top:670px">3</div>
<div class="r" style="left:9.00px;top:679px">Calif.</div>
<div class="r ra" style="right:541.45px;top:679px">501</div>
<div class="r ra" style="right:474.65px;top:679px">301</div>
<div class="r ra" style="right:405.85px;top:679px">19</div>
<div class="r ra" style="right:318.45px;top:679px">41</div>
<div class="r ra" style="right:231.15px;top:679px">1,094</div>
<div class="r ra" style="right:158.75px;top:679px">1,425</div>
<div class="r ra" style="right:95.85px;top:679px">32</div>
<div class="r ra" style="right:37.45px;top:679px">36</div>
<div class="r" style="left:9.00px;top:689px">Alaska</div>
<div class="r ra" style="right:541.45px;top:689px">-</div>
<div class="r ra" style="right:474.65px;top:689px">-</div>
<div class="r ra" style="right:405.85px;top:689px">-</div>
<div class="r ra" style="right:318.45px;top:689px">-</div>
<div class="r ra" style="right:231.15px;top:689px">33</div>
<div class="r ra" style="right:158.75px;top:689px">27</div>
<div class="r ra" style="right:95.85px;top:689px">-</div>
<div class="r ra" style="right:37.45px;top:689px">1</div>
<div class="r" style="left:9.00px;top:698px">Hawaii</div>
<div class="r ra" style="right:541.45px;top:698px">7</div>
<div class="r ra" style="right:474.65px;top:698px">7</div>
<div class="r ra" style="right:405.85px;top:698px">1</div>
<div class="r ra" style="right:318.45px;top:698px">-</div>
<div class="r ra" style="right:231.15px;top:698px">91</div>
<div class="r ra" style="right:158.75px;top:698px">90</div>
<div class="r ra" style="right:95.85px;top:698px">1</div>
<div class="r ra" style="right:37.45px;top:698px">2</div>
<div class="r" style="left:9.00px;top:712px">Guam</div>
<div class="r ra" style="right:541.45px;top:712px">-</div>
<div class="r ra" style="right:474.65px;top:712px">2</div>
<div class="r ra" style="right:405.85px;top:712px">-</div>
<div class="r ra" style="right:318.45px;top:712px">1</div>
<div class="r ra" style="right:231.15px;top:712px">-</div>
<div class="r ra" style="right:158.75px;top:712px">42</div>
<div class="r ra" style="right:95.85px;top:712px">-</div>
<div class="r ra" style="right:37.45px;top:712px">2</div>
<div class="r" style="left:9.00px;top:722px">P.R.</div>
<div class="r ra" style="right:541.45px;top:722px">139</div>
<div class="r ra" style="right:474.65px;top:722px">166</div>
<div class="r ra" style="right:405.85px;top:722px">10</div>
<div class="r ra" style="right:318.45px;top:722px">3</div>
<div class="r ra" style="right:231.15px;top:722px">33</div>
<div class="r ra" style="right:158.75px;top:722px">53</div>
<div class="r ra" style="right:95.85px;top:722px">-</div>
<div class="r ra" style="right:37.45px;top:722px">-</div>
<div class="r" style="left:9.00px;top:731px">V.I.</div>
<div class="r ra" style="right:541.45px;top:731px">1</div>
<div class="r ra" style="right:474.65px;top:731px">-</div>
<div class="r ra" style="right:405.85px;top:731px">-</div>
<div class="r ra" style="right:318.45px;top:731px">-</div>
<div class="r ra" style="right:231.15px;top:731px">-</div>
<div class="r ra" style="right:158.75px;top:731px">-</div>
<div class="r ra" style="right:95.85px;top:731px">-</div>
<div class="r ra" style="right:37.45px;top:731px">-</div>
<div class="r" style="left:9.00px;top:741px">Amer. Samoa</div>
<div class="r ra" style="right:541.45px;top:741px">U</div>
<div class="r ra" style="right:474.65px;top:741px">U</div>
<div class="r ra" style="right:405.85px;top:741px">U</div>
<div class="r ra" style="right:318.45px;top:741px">U</div>
<div class="r ra" style="right:231.15px;top:741px">U</div>
<div class="r ra" style="right:158.75px;top:741px">U</div>
<div class="r ra" style="right:95.85px;top:741px">U</div>
<div class="r ra" style="right:37.45px;top:741px">U</div>
<div class="r" style="left:9.00px;top:750px">C.N.M.I.</div>
<div class="r ra" style="right:541.45px;top:750px">13</div>
<div class="r ra" style="right:474.65px;top:750px">U</div>
<div class="r ra" style="right:405.85px;top:750px">-</div>
<div class="r ra" style="right:318.45px;top:750px">U</div>
<div class="r ra" style="right:231.15px;top:750px">27</div>
<div class="r ra" style="right:158.75px;top:750px">U</div>
<div class="r ra" style="right:95.85px;top:750px">-</div>
<div class="r ra" style="right:37.45px;top:750px">U</div>
<div class="hl" style="left:9px;top:761px;width:676px"></div>
<div class="f" style="left:8.80px;top:766px">N: Not notifiable.</div>
<div class="f" style="left:98.70px;top:766px">U: Unavailable.</div>
<div class="f" style="left:188.50px;top:766px">- : No reported cases.</div>
<div class="f" style="left:10.80px;top:774px">*</div>
<div class="f" style="left:17.00px;top:774px"><span style="letter-spacing:0.01px">Incidence data for reporting year 2001 and 2002 are provisional and cumulative (year-to-date).</span></div>
</div></body></html>
